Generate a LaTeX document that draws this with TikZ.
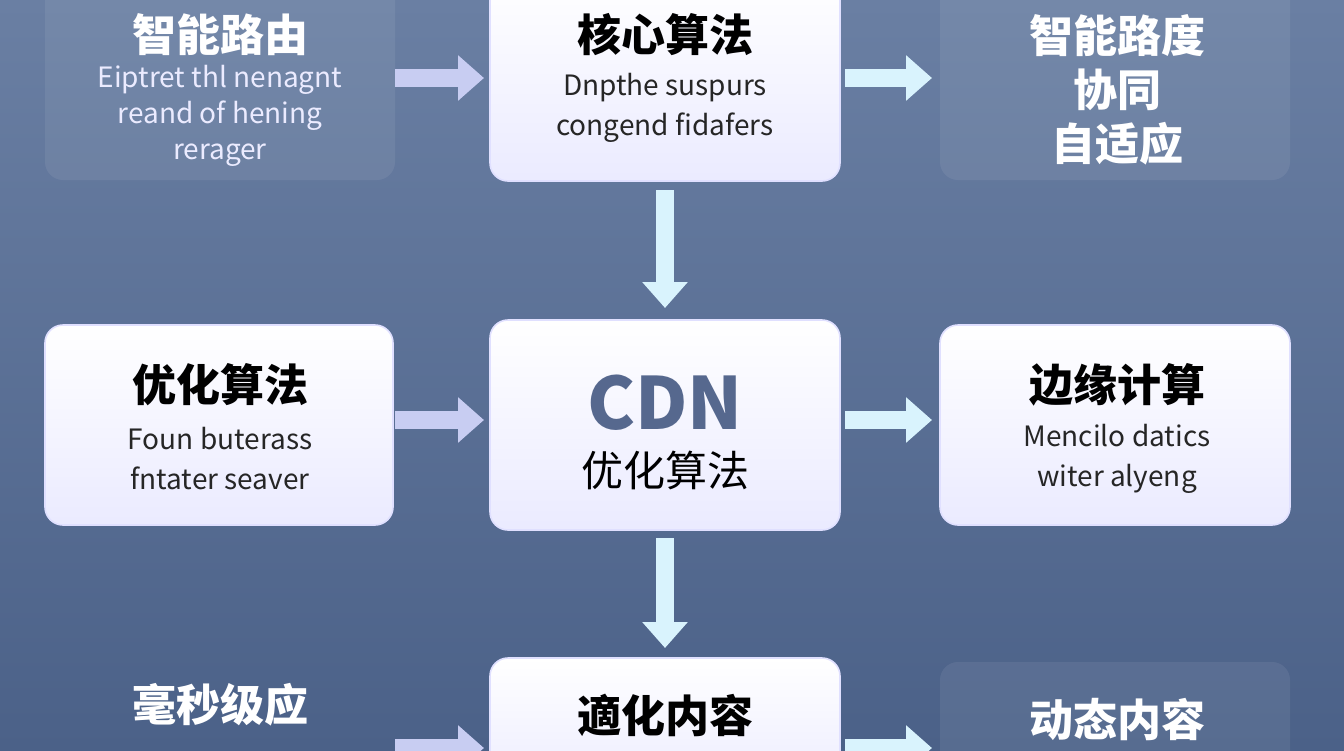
\documentclass[tikz,border=0pt]{standalone}
\usepackage{fontspec}
\setmainfont{Noto Sans CJK SC}
\usetikzlibrary{arrows.meta}
\definecolor{bgt}{HTML}{6A7FA3}
\definecolor{bgb}{HTML}{4B6188}
\definecolor{cdn}{HTML}{56688E}
\definecolor{arr}{HTML}{C8CDF2}
\begin{document}
\begin{tikzpicture}[x=0.5pt,y=-0.5pt,
  wbox/.style={draw=white!70!blue!40,line width=0.8pt,rounded corners=9pt,top color=white,bottom color=blue!8!white},
  dbox/.style={rounded corners=9pt,fill=white,fill opacity=0.07},
  ttl/.style={font=\fontsize{22}{24}\selectfont\bfseries,text=black},
  en/.style={font=\fontsize{14}{16}\selectfont,text=black!85},
  wt/.style={font=\fontsize{22}{24}\selectfont\bfseries,text=white},
  we/.style={font=\fontsize{14}{16}\selectfont,text=white!92!blue},
  ar/.style={line width=9pt,draw=arr,-{Triangle[length=13pt,width=22pt]}},
  ar2/.style={ar,draw=white!85!cyan}]
\useasboundingbox (0,0) rectangle (1344,750);
\clip (0,0) rectangle (1344,750);
\shade[top color=bgt,bottom color=bgb] (0,0) rectangle (1344,750);
% boxes
\fill[dbox] (45,-20) rectangle (395,180);
\draw[wbox] (490,-20) rectangle (840,181);
\fill[dbox] (940,-20) rectangle (1290,180);
\draw[wbox] (45,325) rectangle (393,525);
\draw[wbox] (490,320) rectangle (840,530);
\draw[wbox] (940,325) rectangle (1290,525);
\draw[wbox] (490,658) rectangle (840,800);
\fill[dbox] (940,662) rectangle (1290,800);
% texts
\node[wt] (tl) at (220,35) {智能路由};
\node[we,align=center] (tle) at (220,116) {Eiptret thl nenagnt\\[2pt] reand of hening\\[2pt] rerager};
\node[ttl] (tc) at (665,35) {核心算法};
\node[en,align=center] (tce) at (665,108) {Dnpthe suspurs\\[4pt] congend fidafers};
\node[wt,align=center] (tr) at (1117,90) {智能路度\\[3pt] 协同\\[3pt] 自适应};
\node[ttl] (ml) at (220,385) {优化算法};
\node[en,align=center] (mle) at (220,459) {Foun buterass\\[4pt] fntater seaver};
\node[font=\fontsize{36}{38}\selectfont\bfseries,text=cdn] (mc) at (665,403) {CDN};
\node[ttl,font=\fontsize{21}{23}\selectfont] (mc2) at (665,470) {优化算法};
\node[ttl] (mr) at (1117,385) {边缘计算};
\node[en,align=center] (mre) at (1117,459) {Mencilo datics\\[4pt] witer alyeng};
\node[wt] (bl) at (220,705) {毫秒级应};
\node[ttl] (bc) at (665,715) {適化内容};
\node[wt] (br) at (1117,720) {动态内容};
% arrows
\coordinate (a1) at (395,78); \coordinate (a2) at (484,78);
\coordinate (b1) at (845,78); \coordinate (b2) at (932,78);
\coordinate (c1) at (665,190); \coordinate (c2) at (665,308);
\coordinate (d1) at (395,420); \coordinate (d2) at (484,420);
\coordinate (e1) at (845,420); \coordinate (e2) at (932,420);
\coordinate (f1) at (665,538); \coordinate (f2) at (665,648);
\coordinate (g1) at (395,748); \coordinate (g2) at (484,748);
\coordinate (h1) at (845,748); \coordinate (h2) at (932,748);
\draw[ar] (a1) -- (a2);
\draw[ar2] (b1) -- (b2);
\draw[ar2] (c1) -- (c2);
\draw[ar] (d1) -- (d2);
\draw[ar2] (e1) -- (e2);
\draw[ar2] (f1) -- (f2);
\draw[ar] (g1) -- (g2);
\draw[ar2] (h1) -- (h2);
\end{tikzpicture}
\end{document}
